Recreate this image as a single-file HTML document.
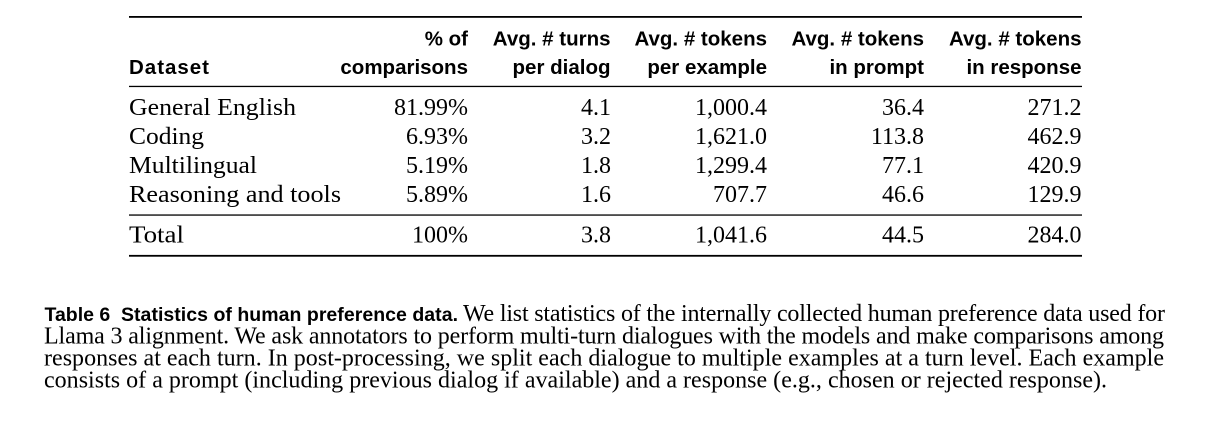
<!DOCTYPE html>
<html>
<head>
<meta charset="utf-8">
<style>
  html, body { margin: 0; padding: 0; background: #fff; }
  body { width: 1206px; height: 436px; overflow: hidden; }
  svg { display: block; }
  .h { font-family: "Liberation Sans", "DejaVu Sans", sans-serif; font-weight: bold; font-size: 20.5px; fill: #000; }
  .d { font-family: "Liberation Serif", "DejaVu Serif", serif; font-size: 24px; fill: #000; }
  .cb { font-family: "Liberation Sans", "DejaVu Sans", sans-serif; font-weight: bold; font-size: 19.5px; fill: #000; }
  .c { font-family: "Liberation Serif", "DejaVu Serif", serif; font-size: 24px; fill: #000; }
</style>
</head>
<body>
<svg width="1206" height="436" viewBox="0 0 1206 436" xmlns="http://www.w3.org/2000/svg">
  <rect x="0" y="0" width="1206" height="436" fill="#fff"/>

  <!-- rules -->
  <rect x="129" y="16" width="953" height="1.8" fill="#000"/>
  <rect x="129" y="85.8" width="953" height="1.3" fill="#000"/>
  <rect x="129" y="214.4" width="953" height="1.3" fill="#000"/>
  <rect x="129" y="254.9" width="953" height="1.8" fill="#000"/>

  <!-- header -->
  <text class="h" x="129" y="74" textLength="80" lengthAdjust="spacing">Dataset</text>

  <text class="h" x="468" y="45.5" text-anchor="end">% of</text>
  <text class="h" x="468" y="74" text-anchor="end">comparisons</text>

  <text class="h" x="610.5" y="45.5" text-anchor="end">Avg. # turns</text>
  <text class="h" x="610.5" y="74" text-anchor="end">per dialog</text>

  <text class="h" x="767" y="45.5" text-anchor="end">Avg. # tokens</text>
  <text class="h" x="767" y="74" text-anchor="end">per example</text>

  <text class="h" x="924" y="45.5" text-anchor="end">Avg. # tokens</text>
  <text class="h" x="924" y="74" text-anchor="end">in prompt</text>

  <text class="h" x="1081.5" y="45.5" text-anchor="end">Avg. # tokens</text>
  <text class="h" x="1081.5" y="74" text-anchor="end">in response</text>

  <!-- rows -->
  <text class="d" x="129" y="115" textLength="167" lengthAdjust="spacingAndGlyphs">General English</text>
  <text class="d" x="468" y="115" text-anchor="end">81.99%</text>
  <text class="d" x="611" y="115" text-anchor="end">4.1</text>
  <text class="d" x="767" y="115" text-anchor="end">1,000.4</text>
  <text class="d" x="924" y="115" text-anchor="end">36.4</text>
  <text class="d" x="1081.5" y="115" text-anchor="end">271.2</text>

  <text class="d" x="129" y="144" textLength="75" lengthAdjust="spacingAndGlyphs">Coding</text>
  <text class="d" x="468" y="144" text-anchor="end">6.93%</text>
  <text class="d" x="611" y="144" text-anchor="end">3.2</text>
  <text class="d" x="767" y="144" text-anchor="end">1,621.0</text>
  <text class="d" x="924" y="144" text-anchor="end">113.8</text>
  <text class="d" x="1081.5" y="144" text-anchor="end">462.9</text>

  <text class="d" x="129" y="173" textLength="128" lengthAdjust="spacingAndGlyphs">Multilingual</text>
  <text class="d" x="468" y="173" text-anchor="end">5.19%</text>
  <text class="d" x="611" y="173" text-anchor="end">1.8</text>
  <text class="d" x="767" y="173" text-anchor="end">1,299.4</text>
  <text class="d" x="924" y="173" text-anchor="end">77.1</text>
  <text class="d" x="1081.5" y="173" text-anchor="end">420.9</text>

  <text class="d" x="129" y="202" textLength="212" lengthAdjust="spacingAndGlyphs">Reasoning and tools</text>
  <text class="d" x="468" y="202" text-anchor="end">5.89%</text>
  <text class="d" x="611" y="202" text-anchor="end">1.6</text>
  <text class="d" x="767" y="202" text-anchor="end">707.7</text>
  <text class="d" x="924" y="202" text-anchor="end">46.6</text>
  <text class="d" x="1081.5" y="202" text-anchor="end">129.9</text>

  <text class="d" x="129" y="242.5" textLength="55" lengthAdjust="spacingAndGlyphs">Total</text>
  <text class="d" x="468" y="242.5" text-anchor="end">100%</text>
  <text class="d" x="611" y="242.5" text-anchor="end">3.8</text>
  <text class="d" x="767" y="242.5" text-anchor="end">1,041.6</text>
  <text class="d" x="924" y="242.5" text-anchor="end">44.5</text>
  <text class="d" x="1081.5" y="242.5" text-anchor="end">284.0</text>

  <!-- caption -->
  <text class="cb" x="44.5" y="321">Table 6</text>
  <text class="cb" x="121" y="321" textLength="337" lengthAdjust="spacing">Statistics of human preference data.</text>
  <text class="c" x="463" y="321" textLength="702" lengthAdjust="spacing">We list statistics of the internally collected human preference data used for</text>
  <text class="c" x="44" y="343.5" textLength="1120" lengthAdjust="spacing">Llama 3 alignment. We ask annotators to perform multi-turn dialogues with the models and make comparisons among</text>
  <text class="c" x="44" y="365.5" textLength="1120" lengthAdjust="spacing">responses at each turn. In post-processing, we split each dialogue to multiple examples at a turn level. Each example</text>
  <text class="c" x="44" y="387.5" textLength="1063" lengthAdjust="spacing">consists of a prompt (including previous dialog if available) and a response (e.g., chosen or rejected response).</text>
</svg>
</body>
</html>
